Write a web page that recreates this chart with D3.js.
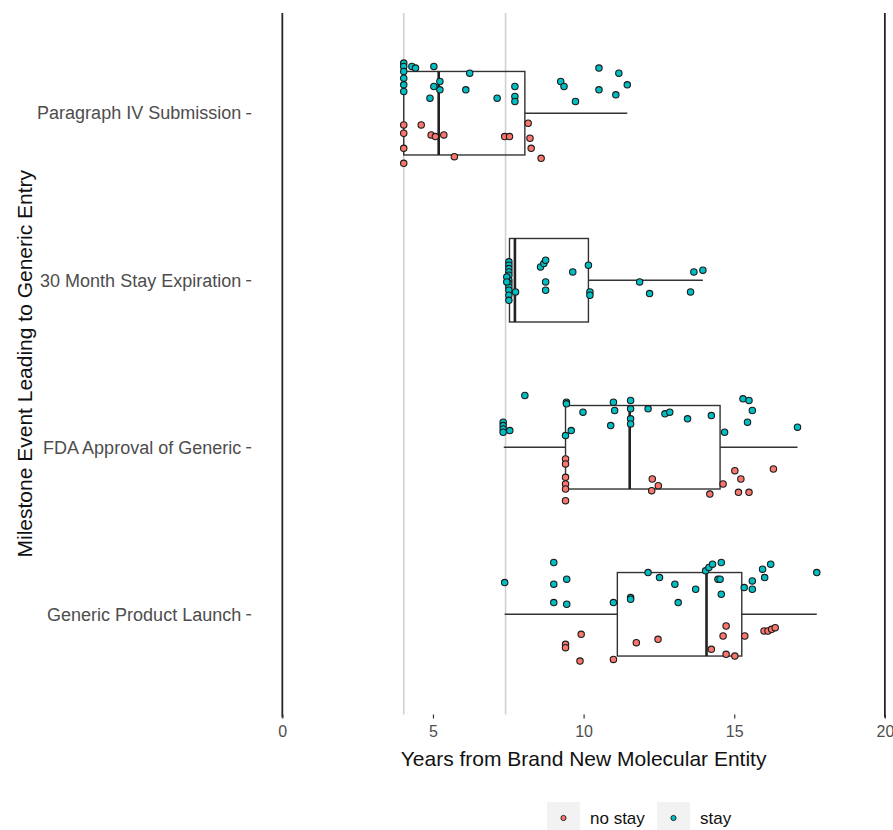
<!DOCTYPE html>
<html>
<head>
<meta charset="utf-8">
<script src="https://cdn.jsdelivr.net/npm/d3@7"></script>
<style>
  body { margin: 0; background: #fff; }
  text { font-family: "Liberation Sans", Arial, sans-serif; }
</style>
</head>
<body>
<div id="chart"></div>
<script>
// categories, top to bottom
const categories = [
  "Paragraph IV Submission",
  "30 Month Stay Expiration",
  "FDA Approval of Generic",
  "Generic Product Launch"
];
const groups = ["no stay", "stay"];
const groupColors = ["#F8766D", "#00BFC4"];

// box summaries (years), one per category
const boxQ1 = [4.03, 7.54, 9.40, 11.12];
const boxMedian = [5.19, 7.72, 11.53, 14.08];
const boxQ3 = [8.05, 10.16, 14.53, 15.25];
const whiskerLow = [4.03, 7.45, 7.35, 7.38];
const whiskerHigh = [11.45, 13.96, 17.10, 17.74];

// reference lines
const blackLines = [0, 20];
const greyLines = [4.03, 7.41];
const xTicks = [0, 5, 10, 15, 20];

// points: [years, vertical jitter in category units]
const paragraphStay = [
  [4.03, -0.30], [4.03, -0.28], [4.03, -0.25], [4.03, -0.21], [4.03, -0.17], [4.03, -0.13],
  [4.30, -0.28], [4.42, -0.27], [5.03, -0.28], [5.23, -0.19], [5.23, -0.14], [5.03, -0.16],
  [4.90, -0.09], [6.22, -0.24], [6.09, -0.14], [7.13, -0.09], [7.72, -0.16], [7.72, -0.10],
  [7.72, -0.07], [9.24, -0.19], [9.35, -0.16], [9.73, -0.07], [10.51, -0.27], [10.51, -0.14],
  [11.17, -0.24], [11.07, -0.11], [11.45, -0.17]
];
const paragraphNoStay = [
  [4.03, 0.07], [4.03, 0.12], [4.03, 0.21], [4.03, 0.30], [4.61, 0.07], [4.94, 0.13],
  [5.08, 0.14], [5.36, 0.13], [5.71, 0.26], [7.38, 0.14], [7.54, 0.14], [8.16, 0.06],
  [8.22, 0.15], [8.26, 0.21], [8.59, 0.27]
];
const stayExpStay = [
  [7.52, -0.11], [7.52, -0.09], [7.52, -0.07], [7.52, -0.05], [7.52, -0.03], [7.52, 0.00],
  [7.52, 0.02], [7.52, 0.04], [7.52, 0.06], [7.52, 0.09], [7.52, 0.12], [7.45, -0.02],
  [7.45, 0.01], [7.74, 0.07], [8.57, -0.08], [8.68, -0.10], [8.74, -0.12], [8.74, 0.01],
  [8.74, 0.06], [9.64, -0.05], [10.16, -0.09], [10.21, 0.07], [10.21, 0.09], [11.86, 0.01],
  [12.19, 0.08], [13.55, 0.07], [13.66, -0.05], [13.96, -0.06]
];
const stayExpNoStay = [];
const approvalStay = [
  [8.05, -0.31], [7.33, -0.15], [7.33, -0.13], [7.33, -0.11], [7.33, -0.09], [7.55, -0.10],
  [9.43, -0.27], [9.43, -0.26], [9.40, -0.07], [9.59, -0.10], [9.98, -0.21], [10.90, -0.13],
  [10.99, -0.27], [11.03, -0.22], [11.56, -0.28], [11.56, -0.23], [11.56, -0.17], [11.56, -0.14],
  [12.14, -0.23], [12.70, -0.20], [12.86, -0.21], [13.45, -0.17], [14.24, -0.19], [14.68, -0.09],
  [15.29, -0.29], [15.49, -0.28], [15.60, -0.22], [15.44, -0.15], [17.10, -0.12]
];
const approvalNoStay = [
  [9.40, 0.07], [9.40, 0.10], [9.40, 0.18], [9.40, 0.22], [9.40, 0.25], [9.40, 0.32],
  [12.28, 0.19], [12.48, 0.23], [12.26, 0.26], [14.19, 0.28], [14.63, 0.22], [15.02, 0.14],
  [15.22, 0.19], [15.14, 0.27], [15.49, 0.27], [16.30, 0.13]
];
const launchStay = [
  [7.38, -0.19], [9.01, -0.31], [9.01, -0.18], [9.01, -0.07], [9.44, -0.21], [9.44, -0.06],
  [10.99, -0.07], [11.56, -0.10], [11.56, -0.09], [12.14, -0.25], [12.52, -0.22], [13.03, -0.18],
  [13.14, -0.07], [13.72, -0.15], [14.05, -0.26], [14.16, -0.28], [14.28, -0.30], [14.57, -0.31],
  [14.46, -0.21], [14.53, -0.21], [14.57, -0.12], [15.33, -0.16], [15.60, -0.15], [15.60, -0.20],
  [15.94, -0.27], [16.21, -0.30], [16.01, -0.22], [17.74, -0.25]
];
const launchNoStay = [
  [9.92, 0.12], [9.40, 0.18], [9.40, 0.20], [9.88, 0.28], [10.99, 0.27], [11.75, 0.17],
  [12.47, 0.15], [14.24, 0.21], [14.63, 0.13], [14.73, 0.07], [14.73, 0.24], [15.02, 0.25],
  [15.35, 0.13], [15.99, 0.10], [16.12, 0.10], [16.24, 0.09], [16.36, 0.08]
];

const noStayPoints = [paragraphNoStay, stayExpNoStay, approvalNoStay, launchNoStay];
const stayPoints = [paragraphStay, stayExpStay, approvalStay, launchStay];

const W = 893, H = 830;
const panel = { left: 252.2, right: 915, top: 13, bottom: 714.5 };

const svg = d3.select("#chart").append("svg")
  .attr("width", W).attr("height", H)
  .style("display", "block");

const x = d3.scaleLinear().domain([-1, 21]).range([panel.left, panel.right]);
const y = d3.scalePoint().domain(categories).range([panel.top, panel.bottom]).padding(0.6);
const step = y.step();
const boxHalf = step * 0.25;

// flatten point table
const points = [];
categories.forEach((c, i) => {
  noStayPoints[i].forEach(p => points.push({ cat: c, g: 0, v: p[0], j: p[1] }));
  stayPoints[i].forEach(p => points.push({ cat: c, g: 1, v: p[0], j: p[1] }));
});

// reference lines
svg.append("g").selectAll("line")
  .data(greyLines)
  .join("line")
  .attr("x1", d => x(d)).attr("x2", d => x(d))
  .attr("y1", panel.top).attr("y2", panel.bottom)
  .attr("stroke", "#d0d0d0").attr("stroke-width", 1.6);

svg.append("g").selectAll("line")
  .data(blackLines)
  .join("line")
  .attr("x1", d => x(d)).attr("x2", d => x(d))
  .attr("y1", panel.top).attr("y2", panel.bottom + 3)
  .attr("stroke", "#262626").attr("stroke-width", 1.8);

// boxes
const boxes = svg.append("g").selectAll("g")
  .data(categories)
  .join("g");

boxes.append("line")
  .attr("x1", (d, i) => x(whiskerLow[i])).attr("x2", (d, i) => x(boxQ1[i]))
  .attr("y1", d => y(d)).attr("y2", d => y(d))
  .attr("stroke", "#333").attr("stroke-width", 1.4);
boxes.append("line")
  .attr("x1", (d, i) => x(boxQ3[i])).attr("x2", (d, i) => x(whiskerHigh[i]))
  .attr("y1", d => y(d)).attr("y2", d => y(d))
  .attr("stroke", "#333").attr("stroke-width", 1.4);
boxes.append("rect")
  .attr("x", (d, i) => x(boxQ1[i]))
  .attr("width", (d, i) => x(boxQ3[i]) - x(boxQ1[i]))
  .attr("y", d => y(d) - boxHalf)
  .attr("height", boxHalf * 2)
  .attr("fill", "none")
  .attr("stroke", "#333").attr("stroke-width", 1.4);
boxes.append("line")
  .attr("x1", (d, i) => x(boxMedian[i])).attr("x2", (d, i) => x(boxMedian[i]))
  .attr("y1", d => y(d) - boxHalf).attr("y2", d => y(d) + boxHalf)
  .attr("stroke", "#222").attr("stroke-width", 2.6);

// jittered points
svg.append("g").selectAll("circle")
  .data(points)
  .join("circle")
  .attr("cx", d => x(d.v))
  .attr("cy", d => y(d.cat) + d.j * step)
  .attr("r", 3.2)
  .attr("fill", d => groupColors[d.g])
  .attr("stroke", "#1a1a1a")
  .attr("stroke-width", 1.1);

// x axis
const xAxis = svg.append("g")
  .attr("transform", `translate(0,${panel.bottom})`)
  .call(d3.axisBottom(x).tickValues(xTicks).tickSize(4).tickPadding(7).tickFormat(d3.format("d")));
xAxis.select(".domain").remove();
xAxis.selectAll(".tick line").attr("stroke", "#333").attr("stroke-width", 1.2);
xAxis.selectAll("text")
  .attr("fill", "#4d4d4d")
  .style("font-size", "16px");

// y axis
const yAxis = svg.append("g")
  .attr("transform", `translate(${panel.left},0)`)
  .call(d3.axisLeft(y).tickSize(5).tickPadding(6));
yAxis.select(".domain").remove();
yAxis.selectAll(".tick line").attr("stroke", "#333").attr("stroke-width", 1.2)
  .attr("x1", -1).attr("x2", -6);
yAxis.selectAll("text")
  .attr("fill", "#4d4d4d")
  .style("font-size", "18px");

// axis titles
svg.append("text")
  .attr("x", (panel.left + panel.right) / 2)
  .attr("y", 766)
  .attr("text-anchor", "middle")
  .attr("fill", "#111")
  .style("font-size", "21px")
  .text("Years from Brand New Molecular Entity");

svg.append("text")
  .attr("transform", `translate(32,${(panel.top + panel.bottom) / 2}) rotate(-90)`)
  .attr("text-anchor", "middle")
  .attr("fill", "#111")
  .style("font-size", "21px")
  .text("Milestone Event Leading to Generic Entry");

// legend
const legendX = [547, 657];
const legend = svg.append("g").selectAll("g")
  .data(groups)
  .join("g")
  .attr("transform", (d, i) => `translate(${legendX[i]},802)`);
legend.append("rect")
  .attr("width", 33).attr("height", 33)
  .attr("fill", "#f2f2f2");
legend.append("circle")
  .attr("cx", 16.5).attr("cy", 16)
  .attr("r", 2.6)
  .attr("fill", (d, i) => groupColors[i])
  .attr("stroke", "#1a1a1a").attr("stroke-width", 0.9);
legend.append("text")
  .attr("x", 43).attr("y", 22)
  .attr("fill", "#111")
  .style("font-size", "17px")
  .text(d => d);
</script>
</body>
</html>
